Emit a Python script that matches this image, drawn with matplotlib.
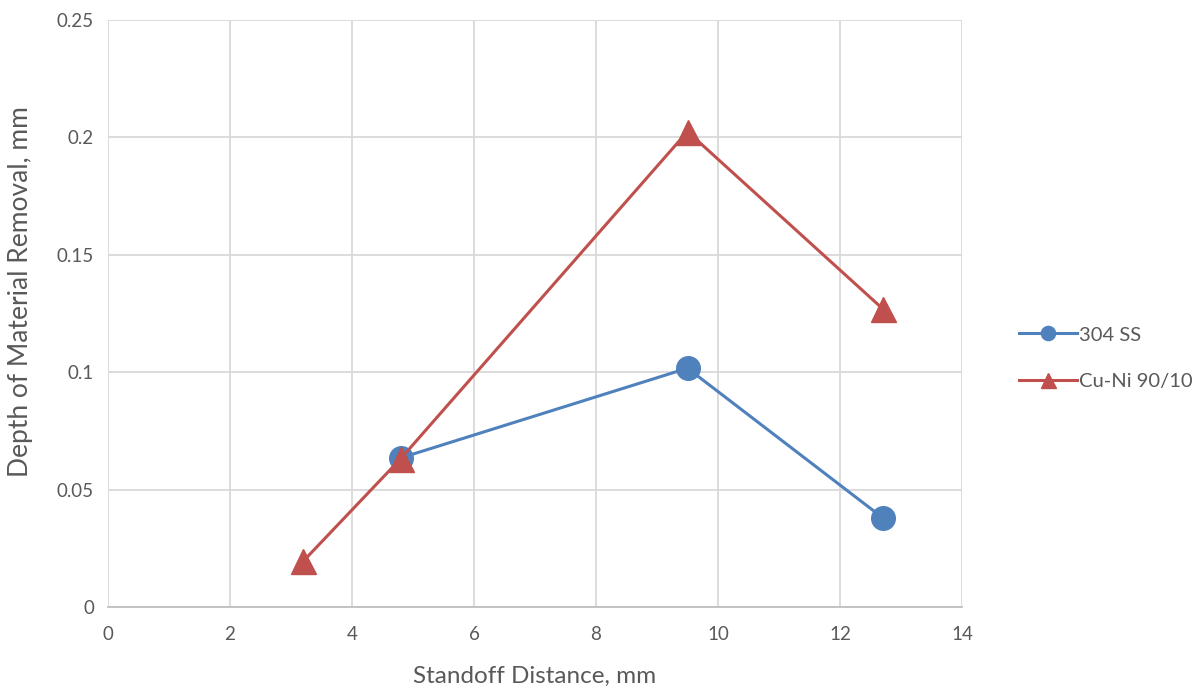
import matplotlib.pyplot as plt

x_ss = [4.8, 9.5, 12.7]
y_ss = [0.0635, 0.1017, 0.038]
x_cuni = [3.2, 4.8, 9.5, 12.7]
y_cuni = [0.0195, 0.0632, 0.2025, 0.127]

plt.rcParams['font.family'] = ['Lato', 'DejaVu Sans']

fig = plt.figure(figsize=(11.98, 6.92), dpi=100)
ax = fig.add_axes([108/1198, 1-607/692, (962-108)/1198, (607-20)/692])

ax.plot(x_ss, y_ss, c="#4f81bd", linewidth=2.2, marker="o", markersize=17, label="304 SS")
ax.plot(x_cuni, y_cuni, c="#c0504d", linewidth=2.2, marker="^", markersize=18, label="Cu-Ni 90/10")

ax.set_xlim(0, 14)
ax.set_ylim(0, 0.25)
ax.set_xticks(range(0, 15, 2))
ax.set_yticks([0, 0.05, 0.1, 0.15, 0.2, 0.25])
ax.set_yticklabels(["0", "0.05", "0.1", "0.15", "0.2", "0.25"])
ax.grid(True, color="#d9d9d9", linewidth=1.3)
ax.set_axisbelow(True)
for s in ["top", "right", "left"]:
    ax.spines[s].set_visible(False)
ax.spines["bottom"].set_color("#bfbfbf")
ax.spines["bottom"].set_linewidth(1.3)
ax.tick_params(length=0, labelsize=13.5, labelcolor="#595959", pad=10)
ax.tick_params(axis="x", pad=14)
ax.set_xlabel("Standoff Distance, mm", fontsize=17.5, color="#595959")
ax.xaxis.set_label_coords(0.5, -0.1)
ax.set_ylabel("Depth of Material Removal, mm", fontsize=19, color="#595959")
ax.yaxis.set_label_coords(-0.088, 0.538)

ax.legend(loc="center left", bbox_to_anchor=(1.045, 0.424), frameon=False, fontsize=14.5,
          labelcolor="#595959", handlelength=2.9, handletextpad=0.1, labelspacing=1.45,
          markerscale=0.6)

fig.savefig("out.png")
plt.close()
